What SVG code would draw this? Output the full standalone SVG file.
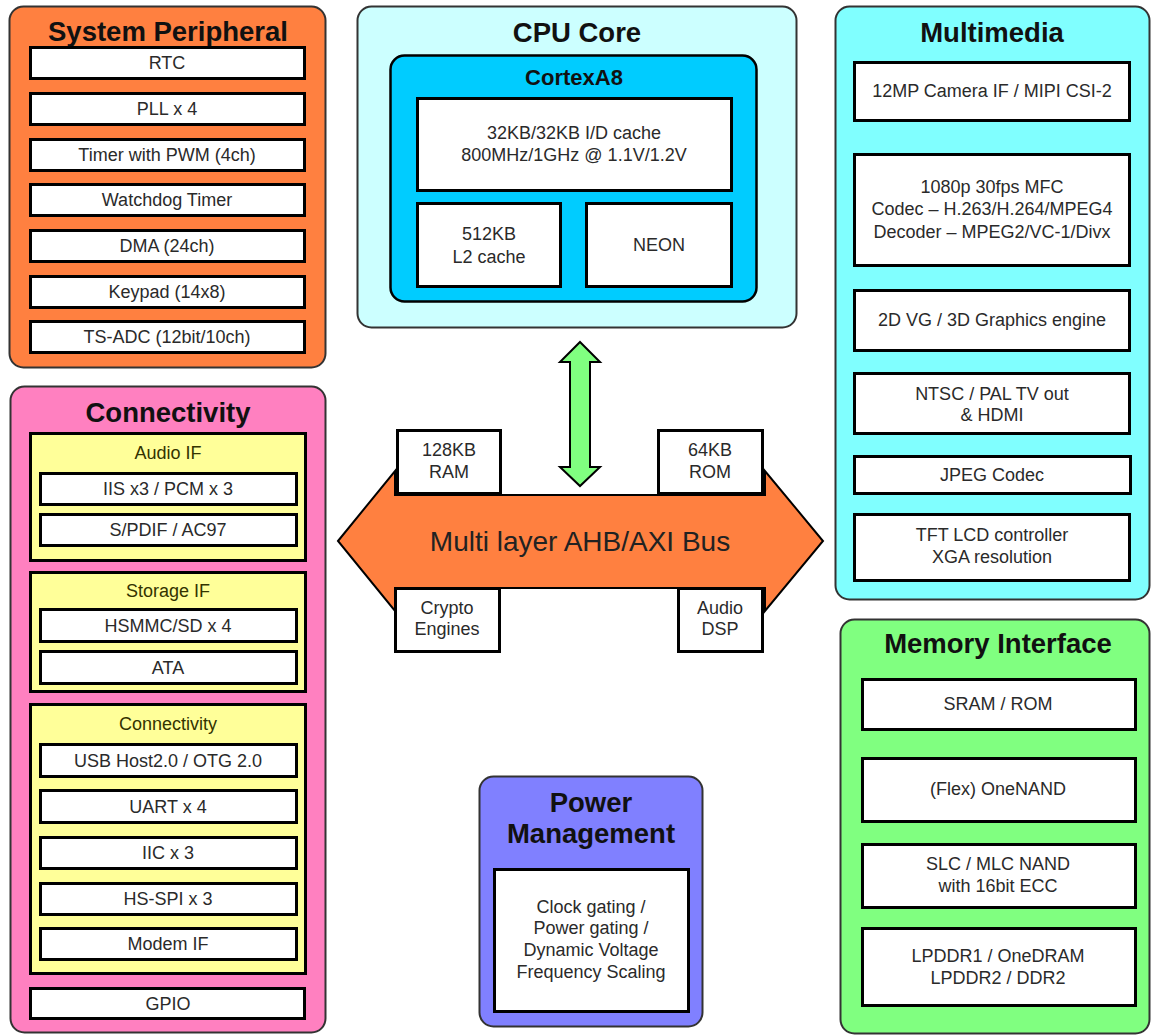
<svg xmlns="http://www.w3.org/2000/svg" width="1152" height="1036" viewBox="0 0 1152 1036">
<style>
.panel{stroke:#333;stroke-width:2}
.box{fill:#fff;stroke:#000;stroke-width:3}
.ybox{fill:#FFFF99;stroke:#000;stroke-width:3}
.title{font-family:"Liberation Sans",Arial,sans-serif;font-weight:bold;font-size:27.5px;fill:#111;text-anchor:middle}
.sub{font-family:"Liberation Sans",Arial,sans-serif;font-weight:bold;font-size:22px;fill:#111;text-anchor:middle}
.t{font-family:"Liberation Sans",Arial,sans-serif;font-size:18px;fill:#2a2a2a;text-anchor:middle}
.yl{font-family:"Liberation Sans",Arial,sans-serif;font-size:18px;fill:#333300;text-anchor:middle}
.bus{font-family:"Liberation Sans",Arial,sans-serif;font-size:28px;fill:#222;text-anchor:middle}
</style>
<rect width="1152" height="1036" fill="#fff"/>

<g id="connectors">
  <polygon id="bus" points="338,541 395,471 395,495 765,495 765,471 823,541 765,611 765,588 395,588 395,611" fill="#FF8040" stroke="#000" stroke-width="2"/>
  <text class="bus" x="580" y="551">Multi layer AHB/AXI Bus</text>
  <polygon id="cpu-bus-arrow" points="580,342 600,362 590,362 590,467 600,467 580,486 560,467 570,467 570,362 560,362" fill="#80FF80" stroke="#000" stroke-width="2"/>
</g>

<g id="system-peripheral">
  <rect class="panel" x="9.5" y="6.5" width="316" height="361" rx="14" fill="#FF8040"/>
  <text class="title" x="168" y="41">System Peripheral</text>
  <rect class="box" x="30.5" y="47.5" width="274" height="31"/><text class="t" x="167" y="69">RTC</text>
  <rect class="box" x="30.5" y="93.5" width="274" height="31"/><text class="t" x="167" y="115">PLL x 4</text>
  <rect class="box" x="30.5" y="139.5" width="274" height="31"/><text class="t" x="167" y="161">Timer with PWM (4ch)</text>
  <rect class="box" x="30.5" y="184.5" width="274" height="31"/><text class="t" x="167" y="206">Watchdog Timer</text>
  <rect class="box" x="30.5" y="230.5" width="274" height="31"/><text class="t" x="167" y="252">DMA (24ch)</text>
  <rect class="box" x="30.5" y="276.5" width="274" height="31"/><text class="t" x="167" y="298">Keypad (14x8)</text>
  <rect class="box" x="30.5" y="321.5" width="274" height="31"/><text class="t" x="167" y="343">TS-ADC (12bit/10ch)</text>
</g>

<g id="cpu-core">
  <rect class="panel" x="357.5" y="6.5" width="439" height="321" rx="14" fill="#CCFFFF"/>
  <text class="title" x="577" y="42">CPU Core</text>
  <g id="cortex-a8">
    <rect x="390.5" y="55.5" width="366" height="246" rx="14" fill="#00CCFF" stroke="#000" stroke-width="2.5"/>
    <text class="sub" x="574" y="85">CortexA8</text>
    <rect class="box" x="417.5" y="98.5" width="314" height="92"/>
    <text class="t" x="574" y="139">32KB/32KB I/D cache</text>
    <text class="t" x="574" y="161">800MHz/1GHz @ 1.1V/1.2V</text>
    <rect class="box" x="417.5" y="203.5" width="143" height="83"/>
    <text class="t" x="489" y="240">512KB</text>
    <text class="t" x="489" y="263">L2 cache</text>
    <rect class="box" x="586.5" y="203.5" width="145" height="83"/>
    <text class="t" x="659" y="251">NEON</text>
  </g>
</g>

<g id="multimedia">
  <rect class="panel" x="835.5" y="6.5" width="314" height="593" rx="14" fill="#80FFFF"/>
  <text class="title" x="992" y="42">Multimedia</text>
  <rect class="box" x="854.5" y="62.5" width="275" height="58"/><text class="t" x="992" y="97">12MP Camera IF / MIPI CSI-2</text>
  <rect class="box" x="854.5" y="154.5" width="275" height="111"/>
  <text class="t" x="992" y="193">1080p 30fps MFC</text>
  <text class="t" x="992" y="215">Codec – H.263/H.264/MPEG4</text>
  <text class="t" x="992" y="238">Decoder – MPEG2/VC-1/Divx</text>
  <rect class="box" x="854.5" y="290.5" width="275" height="60"/><text class="t" x="992" y="326">2D VG / 3D Graphics engine</text>
  <rect class="box" x="854.5" y="373.5" width="275" height="60"/>
  <text class="t" x="992" y="400">NTSC / PAL TV out</text>
  <text class="t" x="992" y="421">&amp; HDMI</text>
  <rect class="box" x="854.5" y="456.5" width="276" height="37"/><text class="t" x="992" y="481">JPEG Codec</text>
  <rect class="box" x="854.5" y="514.5" width="275" height="66"/>
  <text class="t" x="992" y="541">TFT LCD controller</text>
  <text class="t" x="992" y="563">XGA resolution</text>
</g>

<g id="connectivity">
  <rect class="panel" x="10.5" y="386.5" width="315" height="646" rx="14" fill="#FF80C0"/>
  <text class="title" x="168" y="422">Connectivity</text>
  <g id="audio-if">
    <rect class="ybox" x="30.5" y="433.5" width="275" height="127"/>
    <text class="yl" x="168" y="459">Audio IF</text>
    <rect class="box" x="40.5" y="473.5" width="256" height="31"/><text class="t" x="168" y="495">IIS x3 / PCM x 3</text>
    <rect class="box" x="40.5" y="514.5" width="256" height="31"/><text class="t" x="168" y="536">S/PDIF / AC97</text>
  </g>
  <g id="storage-if">
    <rect class="ybox" x="30.5" y="572.5" width="275" height="119"/>
    <text class="yl" x="168" y="597">Storage IF</text>
    <rect class="box" x="40.5" y="609.5" width="256" height="32"/><text class="t" x="168" y="632">HSMMC/SD x 4</text>
    <rect class="box" x="40.5" y="651.5" width="256" height="32"/><text class="t" x="168" y="674">ATA</text>
  </g>
  <g id="connectivity-if">
    <rect class="ybox" x="30.5" y="704.5" width="275" height="269"/>
    <text class="yl" x="168" y="730">Connectivity</text>
    <rect class="box" x="40.5" y="744.5" width="256" height="32"/><text class="t" x="168" y="767">USB Host2.0 / OTG 2.0</text>
    <rect class="box" x="40.5" y="790.5" width="256" height="32"/><text class="t" x="168" y="813">UART x 4</text>
    <rect class="box" x="40.5" y="837.5" width="256" height="31"/><text class="t" x="168" y="859">IIC x 3</text>
    <rect class="box" x="40.5" y="883.5" width="256" height="31"/><text class="t" x="168" y="905">HS-SPI x 3</text>
    <rect class="box" x="40.5" y="928.5" width="256" height="31"/><text class="t" x="168" y="950">Modem IF</text>
  </g>
  <rect class="box" x="30.5" y="988.5" width="274" height="30"/><text class="t" x="168" y="1010">GPIO</text>
</g>

<g id="ram"><rect class="box" x="397.5" y="430.5" width="103" height="63"/><text class="t" x="449" y="456">128KB</text><text class="t" x="449" y="478">RAM</text></g>
<g id="rom"><rect class="box" x="658.5" y="430.5" width="104" height="63"/><text class="t" x="710" y="456">64KB</text><text class="t" x="710" y="478">ROM</text></g>
<g id="crypto"><rect class="box" x="395.5" y="588.5" width="104" height="63"/><text class="t" x="447" y="614">Crypto</text><text class="t" x="447" y="635">Engines</text></g>
<g id="audio-dsp"><rect class="box" x="678.5" y="588.5" width="84" height="63"/><text class="t" x="720" y="614">Audio</text><text class="t" x="720" y="635">DSP</text></g>

<g id="power-management">
  <rect class="panel" x="479.5" y="776.5" width="223" height="250" rx="14" fill="#8080FF"/>
  <text class="title" x="591" y="812">Power</text>
  <text class="title" x="591" y="843">Management</text>
  <rect class="box" x="494.5" y="869.5" width="194" height="142"/>
  <text class="t" x="591" y="913">Clock gating /</text>
  <text class="t" x="591" y="934">Power gating /</text>
  <text class="t" x="591" y="956">Dynamic Voltage</text>
  <text class="t" x="591" y="978">Frequency Scaling</text>
</g>

<g id="memory-interface">
  <rect class="panel" x="840.5" y="619.5" width="309" height="414" rx="14" fill="#80FF80"/>
  <text class="title" x="998" y="653">Memory Interface</text>
  <rect class="box" x="862.5" y="679.5" width="273" height="50"/><text class="t" x="998" y="710">SRAM / ROM</text>
  <rect class="box" x="862.5" y="758.5" width="273" height="63"/><text class="t" x="998" y="795">(Flex) OneNAND</text>
  <rect class="box" x="862.5" y="844.5" width="273" height="63"/>
  <text class="t" x="998" y="870">SLC / MLC NAND</text>
  <text class="t" x="998" y="892">with 16bit ECC</text>
  <rect class="box" x="862.5" y="928.5" width="273" height="77"/>
  <text class="t" x="998" y="962">LPDDR1 / OneDRAM</text>
  <text class="t" x="998" y="984">LPDDR2 / DDR2</text>
</g>
</svg>
